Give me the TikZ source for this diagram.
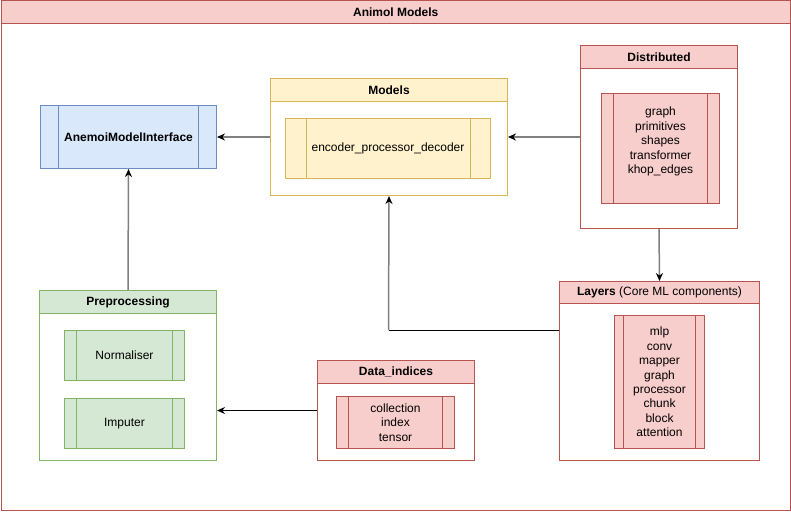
\documentclass[tikz,border=0pt]{standalone}
\usepackage{fontspec}
\setmainfont{Liberation Sans}
\usetikzlibrary{arrows.meta,calc}

\definecolor{redfill}{HTML}{F8CECC}
\definecolor{redline}{HTML}{B85450}
\definecolor{yelfill}{HTML}{FFF2CC}
\definecolor{yelline}{HTML}{D6B656}
\definecolor{grnfill}{HTML}{D5E8D4}
\definecolor{grnline}{HTML}{82B366}
\definecolor{blufill}{HTML}{DAE8FC}
\definecolor{bluline}{HTML}{6C8EBF}
\definecolor{wire}{HTML}{808080}

\begin{document}
\begin{tikzpicture}[x=1pt, y=-1pt, line width=1pt,
    font=\fontsize{12}{14.4}\selectfont,
    box/.style={draw=#1line, fill=white, anchor=north west, inner sep=0pt},
    head/.style={draw=#1line, fill=#1fill, anchor=north west, inner sep=0pt, minimum height=23pt, font=\fontsize{12}{14.4}\selectfont\bfseries},
    proc/.style={draw=#1line, fill=#1fill, anchor=north west, inner sep=0pt, align=center,
        path picture={
            \draw[#1line] ($(path picture bounding box.north west)!0.1!(path picture bounding box.north east)$)
                -- ($(path picture bounding box.south west)!0.1!(path picture bounding box.south east)$);
            \draw[#1line] ($(path picture bounding box.north west)!0.9!(path picture bounding box.north east)$)
                -- ($(path picture bounding box.south west)!0.9!(path picture bounding box.south east)$);
        }},
    link/.style={draw=wire, line width=1.5pt, -{Stealth[length=8pt, width=7pt, black]}}]

    \useasboundingbox (0,0) rectangle (791,511);

    % Outer frame
    \node[box=red, minimum width=789.5pt, minimum height=509.5pt] (frame) at (0.5,0.5) {};
    \node[head=red, minimum width=789.5pt] (framehead) at (0.5,0.5) {Animol Models};

    % Interface
    \node[proc=blu, minimum width=176pt, minimum height=63pt, font=\fontsize{12}{14.4}\selectfont\bfseries] (ami) at (40,105) {AnemoiModelInterface};

    % Models
    \node[box=yel, minimum width=237pt, minimum height=117pt] (models) at (270,78) {};
    \node[head=yel, minimum width=237pt] (modelshead) at (270,78) {Models};
    \node[proc=yel, minimum width=205pt, minimum height=60pt] (epd) at (285,118) {encoder\_processor\_decoder};

    % Distributed
    \node[box=red, minimum width=157pt, minimum height=183pt] (dist) at (580,45) {};
    \node[head=red, minimum width=157pt] (disthead) at (580,45) {Distributed};
    \node[proc=red, minimum width=118pt, minimum height=110pt] (distlist) at (601,93) {};
    \node[align=center, inner sep=0pt] (disttext) at ($(distlist.center)+(0,-7)$)
        {graph\\primitives\\shapes\\transformer\\khop\_edges};

    % Layers
    \node[box=red, minimum width=200pt, minimum height=179pt] (layers) at (559,281) {};
    \node[head=red, minimum width=200pt, minimum height=22pt] (layershead) at (559,281) {Layers \mdseries(Core ML components)};
    \node[proc=red, minimum width=90pt, minimum height=133pt] (layerlist) at (614,315)
        {mlp\\conv\\mapper\\graph\\processor\\chunk\\block\\attention};

    % Data indices
    \node[box=red, minimum width=157pt, minimum height=100pt] (data) at (317,360) {};
    \node[head=red, minimum width=157pt] (datahead) at (317,360) {Data\_indices};
    \node[proc=red, minimum width=118pt, minimum height=52pt] (datalist) at (336,396)
        {collection\\index\\tensor};

    % Preprocessing
    \node[box=grn, minimum width=177pt, minimum height=170pt] (prep) at (39,290) {};
    \node[head=grn, minimum width=177pt] (prephead) at (39,290) {Preprocessing};
    \node[proc=grn, minimum width=120pt, minimum height=50pt] (norm) at (64,330) {Normaliser};
    \node[proc=grn, minimum width=120pt, minimum height=50pt] (imp) at (64,398) {Imputer};

    % Connectors
    \draw[link] (models.west) -- (ami.east);
    \draw[link] (dist.west) -- (models.east);
    \draw[link] (dist.south) -- (layers.north);
    \coordinate (bend) at (388.5,330);
    \draw (layers.west |- bend) -- (bend);
    \draw[link] (bend) -- (models.south);
    \draw[link, draw=black, line width=1pt] (data.west) -- (data.west -| prep.east);
    \draw[link] (prep.north) -- (ami.south);
\end{tikzpicture}
\end{document}
